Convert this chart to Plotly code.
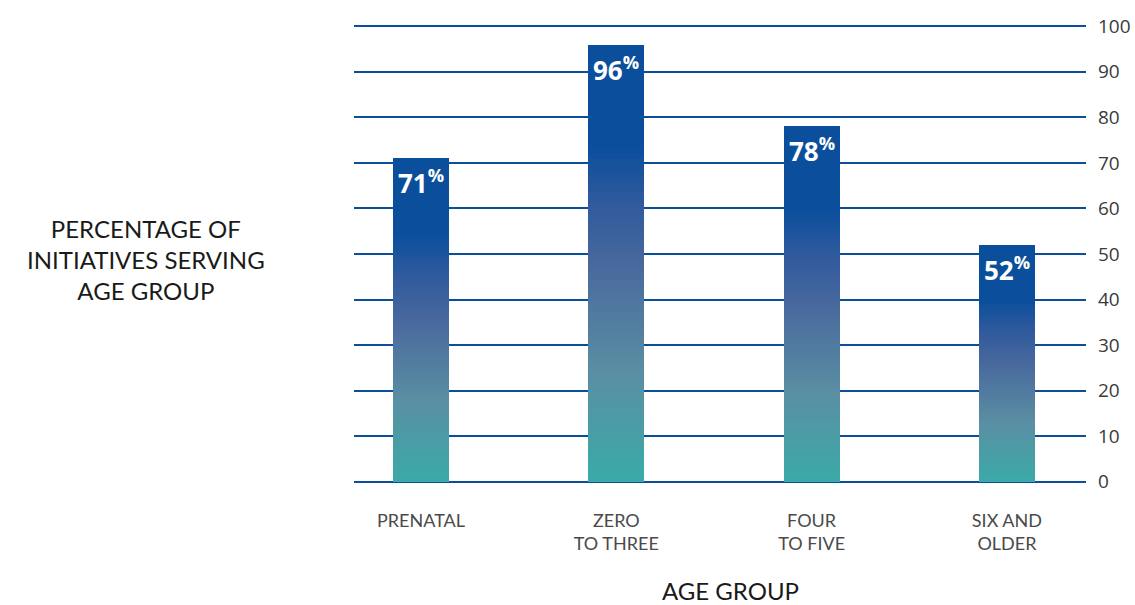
import plotly.graph_objects as go
from plotly.colors import sample_colorscale

categories = ["PRENATAL", "ZERO<br>TO THREE", "FOUR<br>TO FIVE", "SIX AND<br>OLDER"]
values = [71, 96, 78, 52]
y_ticks = [0, 10, 20, 30, 40, 50, 60, 70, 80, 90, 100]

positions = list(range(len(categories)))
gradient = [
    [0.0, "#3aaaa7"],
    [0.25, "#5a8fa3"],
    [0.5, "#48689d"],
    [0.64, "#2f5a9d"],
    [0.76, "#0b4f9c"],
    [1.0, "#0b4f9c"],
]

N = 80
fig = go.Figure()
for i in range(N):
    col = sample_colorscale(gradient, [(i + 0.5) / N])[0]
    fig.add_trace(go.Bar(
        x=positions,
        y=[v / N for v in values],
        width=0.287,
        marker=dict(color=col, line=dict(width=0)),
        hoverinfo="skip",
        showlegend=False,
    ))

for p, v in zip(positions, values):
    fig.add_annotation(
        x=p, y=v, xref="x", yref="y",
        text=f"<b>{v}</b><sup><b>%</b></sup>",
        showarrow=False, yanchor="top", yshift=-3,
        font=dict(family="Open Sans", size=26, color="white"),
    )

fig.add_annotation(
    x=-0.284, y=0.487, xref="paper", yref="paper",
    text="PERCENTAGE OF<br>INITIATIVES SERVING<br>AGE GROUP",
    showarrow=False, xanchor="center", yanchor="middle", align="center",
    font=dict(family="Lato", size=24, color="#1a1a1a"),
)
fig.add_annotation(
    x=0.514, y=-0.2325, xref="paper", yref="paper",
    text="AGE GROUP",
    showarrow=False, xanchor="center", yanchor="middle", borderpad=0,
    font=dict(family="Lato", size=24, color="#1a1a1a"),
)

fig.update_layout(
    barmode="stack",
    bargap=0,
    width=1135, height=605,
    margin=dict(l=354, r=49, t=24, b=121, autoexpand=False),
    plot_bgcolor="white", paper_bgcolor="white",
)
fig.update_xaxes(
    range=[-0.343, 3.405],
    tickvals=positions, ticktext=categories,
    showgrid=False, zeroline=False, showline=False, ticks="",
    ticklabelstandoff=24, automargin=False,
    tickfont=dict(family="Lato", size=18, color="#4a4a4a"),
)
fig.update_yaxes(
    range=[-0.5, 100.5], side="right",
    tickvals=y_ticks,
    showgrid=True, gridcolor="#0b4f9c", gridwidth=1.8,
    zeroline=False, showline=False, ticks="",
    ticklabelstandoff=11, automargin=False,
    tickfont=dict(family="Open Sans", size=19, color="#3a3a3a"),
)

fig.write_html("out.html")
